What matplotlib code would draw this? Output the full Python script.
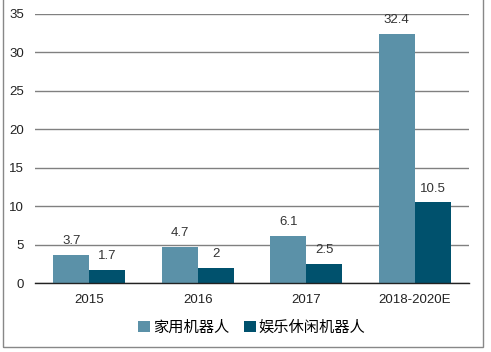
import matplotlib.pyplot as plt
import matplotlib.patches as patches
import numpy as np

plt.rcParams['font.family'] = ['Liberation Sans', 'Noto Sans CJK SC', 'DejaVu Sans']

categories = ['2015', '2016', '2017', '2018-2020E']
home_robot = [3.7, 4.7, 6.1, 32.4]
leisure_robot = [1.7, 2, 2.5, 10.5]
series_names = ['家用机器人', '娱乐休闲机器人']

LIGHT = '#5B91A8'
DARK = '#00516D'

fig = plt.figure(figsize=(4.91, 3.52), dpi=100)
ax = fig.add_axes([35 / 491, 69 / 352, 434 / 491, 269 / 352])

x = np.arange(len(categories))
w = 1 / 3
b1 = ax.bar(x - w / 2, home_robot, w, color=LIGHT, label=series_names[0], zorder=3)
b2 = ax.bar(x + w / 2, leisure_robot, w, color=DARK, label=series_names[1], zorder=3)

for bars, vals in ((b1, home_robot), (b2, leisure_robot)):
    for r, v in zip(bars, vals):
        ax.text(r.get_x() + r.get_width() / 2, v + 1.0, f'{v:g}',
                ha='center', va='bottom', fontsize=9.5, color='#333333')

ax.set_xlim(-0.5, len(categories) - 0.5)
ax.set_ylim(0, 35)
ax.set_yticks(range(0, 36, 5))
ax.set_xticks(x)
ax.set_xticklabels(categories)
ax.yaxis.grid(True, color='#808080', linewidth=1, zorder=0)
ax.tick_params(axis='both', length=0, labelsize=9.5, colors='#222222')
ax.tick_params(axis='y', pad=8)
ax.tick_params(axis='x', pad=8)
for s in ('left', 'right', 'top'):
    ax.spines[s].set_visible(False)
ax.spines['bottom'].set_color('#222222')
ax.spines['bottom'].set_linewidth(1)
ax.spines['bottom'].set_zorder(4)

ax.legend(loc='upper center', bbox_to_anchor=(0.5, -0.09), ncol=2, frameon=False,
          fontsize=11, handlelength=0.75, handleheight=0.75, handletextpad=0.2,
          columnspacing=1.0)

frame = patches.Rectangle((3 / 491, 5 / 352), 480 / 491, 360 / 352,
                          transform=fig.transFigure, fill=False,
                          edgecolor='#888888', linewidth=1)
fig.patches.append(frame)

fig.savefig('out.png', dpi=100)
